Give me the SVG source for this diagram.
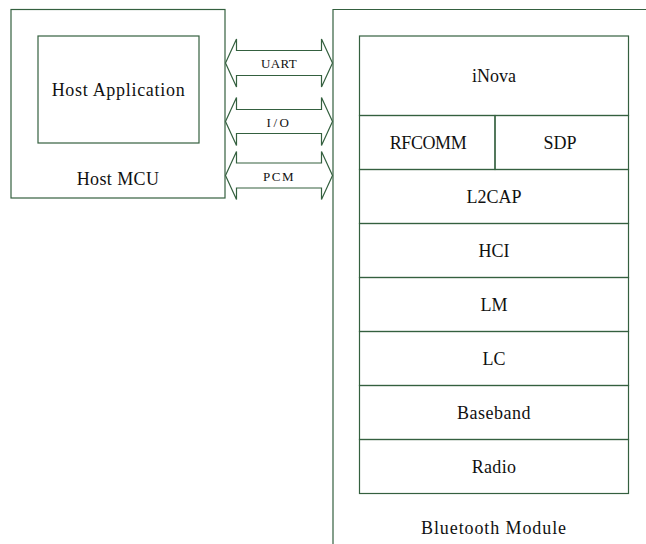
<svg xmlns="http://www.w3.org/2000/svg" width="646" height="544" viewBox="0 0 646 544">
<style>
.box{fill:none;stroke:#34603f;stroke-width:1.2}
.arr{fill:#fff;stroke:#34603f;stroke-width:1.2;stroke-linejoin:miter}
text{font-family:'Liberation Serif','Times New Roman',Times,Tinos,'DejaVu Serif',serif;fill:#111;text-anchor:middle}
.t{font-size:18px}
.s{font-size:13px}
</style>
<rect width="646" height="544" fill="#fff"/>
<g id="host-mcu">
<rect class="box" x="11" y="9.5" width="214" height="188.5"/>
<text class="t" x="118" y="185" letter-spacing="0.4">Host MCU</text>
</g>
<g id="host-application">
<rect class="box" x="38" y="36" width="161" height="107"/>
<text class="t" x="118.5" y="96" letter-spacing="0.7">Host Application</text>
</g>
<g id="bluetooth-module">
<path class="box" d="M333,544 V9.5 H646"/>
<text class="t" x="494" y="534" letter-spacing="0.9">Bluetooth Module</text>
</g>
<g id="inova">
<rect class="box" x="359.5" y="36" width="269" height="79.5"/>
<text class="t" x="494" y="82">iNova</text>
</g>
<g id="rfcomm">
<rect class="box" x="359.5" y="115.5" width="135.5" height="54"/>
<text class="t" x="428" y="148.5" letter-spacing="-0.4">RFCOMM</text>
</g>
<g id="sdp">
<rect class="box" x="495" y="115.5" width="133.5" height="54"/>
<text class="t" x="560" y="148.5">SDP</text>
</g>
<g id="l2cap">
<rect class="box" x="359.5" y="169.5" width="269" height="54"/>
<text class="t" x="494" y="202.5">L2CAP</text>
</g>
<g id="hci">
<rect class="box" x="359.5" y="223.5" width="269" height="54"/>
<text class="t" x="494" y="256.5">HCI</text>
</g>
<g id="lm">
<rect class="box" x="359.5" y="277.5" width="269" height="54"/>
<text class="t" x="494" y="310.5">LM</text>
</g>
<g id="lc">
<rect class="box" x="359.5" y="331.5" width="269" height="54"/>
<text class="t" x="494" y="364.5">LC</text>
</g>
<g id="baseband">
<rect class="box" x="359.5" y="385.5" width="269" height="54"/>
<text class="t" x="494" y="418.5" letter-spacing="0.5">Baseband</text>
</g>
<g id="radio">
<rect class="box" x="359.5" y="439.5" width="269" height="54"/>
<text class="t" x="494" y="472.5" letter-spacing="0.3">Radio</text>
</g>
<g id="connectors">
<g id="uart">
<path class="arr" d="M225.5,63 L236.5,39 V50.5 H321.5 V39 L332.5,63 L321.5,87 V75.5 H236.5 V87 Z"/>
<text class="s" x="279" y="68" letter-spacing="0.3">UART</text>
</g>
<g id="io">
<path class="arr" d="M225.5,121.5 L236.5,97.5 V109.5 H321.5 V97.5 L332.5,121.5 L321.5,145.5 V133.5 H236.5 V145.5 Z"/>
<text class="s" x="279" y="127" letter-spacing="2.5">I/O</text>
</g>
<g id="pcm">
<path class="arr" d="M225.5,175.5 L236.5,151.5 V163 H321.5 V151.5 L332.5,175.5 L321.5,199.5 V188 H236.5 V199.5 Z"/>
<text class="s" x="279" y="180.5" letter-spacing="1.5">PCM</text>
</g>
</g>
</svg>
